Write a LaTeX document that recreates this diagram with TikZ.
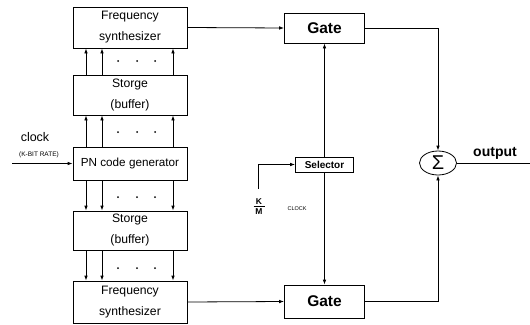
\documentclass[tikz,border=0pt]{standalone}
\usepackage{fontspec}
\setmainfont{Liberation Sans}
\usetikzlibrary{arrows.meta,shapes.geometric}
\begin{document}
\begin{tikzpicture}[x=1pt,y=-1pt,
  line width=0.8pt,
  arr/.style={-{Latex[length=5pt,width=3.6pt]}},
  blk/.style={draw,minimum width=114pt,align=center,inner sep=0pt,font=\fontsize{12.2}{21}\selectfont},
  gatebox/.style={draw,minimum width=80pt,inner sep=0pt,font=\fontsize{15.5}{18}\selectfont\bfseries},
  dotc/.style={circle,fill,inner sep=0pt,minimum size=2pt}]
\useasboundingbox (0,0) rectangle (530,324);
% left column
\node[blk,minimum height=41pt] (fs1) at (130,27.5) {Frequency\\synthesizer};
\node[blk,minimum height=40pt] (st1) at (130,95) {Storge\\(buffer)};
\node[blk,minimum height=33pt] (pn) at (130,163.5) {\fontsize{11.7}{14}\selectfont PN code generator};
\node[blk,minimum height=39pt] (st2) at (130,230.5) {Storge\\(buffer)};
\node[blk,minimum height=42pt] (fs2) at (130,302) {Frequency\\synthesizer};
% vertical arrows
\foreach \xx in {86,102,173}{
  \draw[arr] (st1.north -| \xx,0) -- (fs1.south -| \xx,0);
  \draw[arr] (pn.north -| \xx,0) -- (st1.south -| \xx,0);
  \draw[arr] (pn.south -| \xx,0) -- (st2.north -| \xx,0);
  \draw[arr] (st2.south -| \xx,0) -- (fs2.north -| \xx,0);
}
\foreach \yy [count=\i] in {61,132,197,268}{
  \foreach \xx [count=\j] in {118,137,155}{
    \node[dotc] (d\i\j) at (\xx,\yy) {};
  }
}
% clock input
\node[font=\fontsize{12.5}{14}\selectfont] (clk) at (35,137) {clock};
\node[font=\fontsize{6.5}{8}\selectfont] (kbit) at (39,155) {(K-BIT RATE)};
\coordinate (clkin) at (12,163.5);
\draw[arr] (clkin) -- (pn.west);
% gates
\node[gatebox,minimum height=30pt] (g1) at (324.5,28) {Gate};
\node[gatebox,minimum height=33pt] (g2) at (324.5,301.5) {Gate};
\draw[arr] (fs1.east) -- (g1.west);
\draw[arr] (fs2.east) -- (g2.west);
% selector
\node[draw,minimum width=58pt,minimum height=15pt,inner sep=0pt,font=\fontsize{10}{12}\selectfont\bfseries] (sel) at (324.5,164.5) {Selector};
\draw[arr] (sel.north) -- (g1.south);
\draw[arr] (sel.south) -- (g2.north);
\node[inner sep=0pt,font=\fontsize{8.5}{9}\selectfont\bfseries] (kk) at (259,201.5) {K};
\node[inner sep=0pt,font=\fontsize{8.5}{9}\selectfont\bfseries] (mm) at (259,212) {M};
\coordinate (barl) at (253.5,206.5);
\coordinate (barr) at (264.5,206.5);
\draw[line width=0.9pt] (barl) -- (barr);
\node[font=\fontsize{5.5}{7}\selectfont] (kmclk) at (297,209) {CLOCK};
\coordinate (kmtop) at (258,189);
\draw[arr] (kmtop) |- (sel.west);
% summer
\node[draw,ellipse,minimum width=37pt,minimum height=24pt,inner sep=0pt,font=\fontsize{20}{22}\selectfont] (sum) at (438,163) {Σ};
\draw[arr] (g1.east) -| (sum.north);
\draw[arr] (g2.east) -| (sum.south);
\coordinate (outend) at (530,163);
\draw (sum.east) -- (outend);
\node[font=\fontsize{14}{16}\selectfont\bfseries] (outlbl) at (495,153) {output};
\end{tikzpicture}
\end{document}
